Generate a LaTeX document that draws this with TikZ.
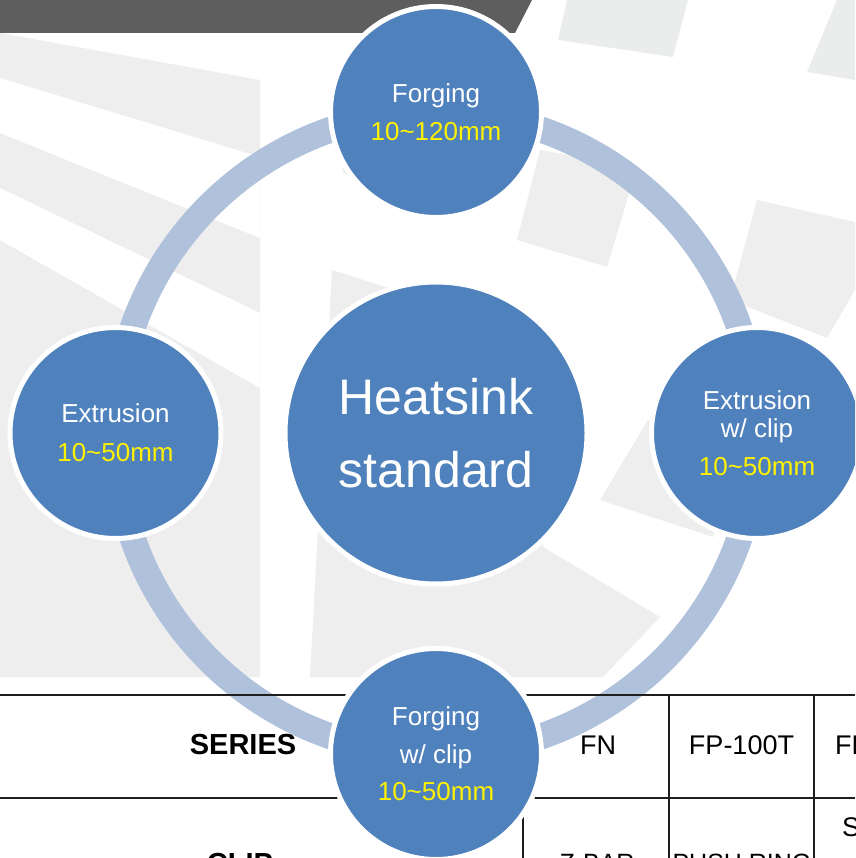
\documentclass[tikz,border=0pt]{standalone}
\usepackage{fontspec}
\setmainfont{Liberation Sans}
\usetikzlibrary{positioning}
\definecolor{diskblue}{HTML}{4F81BD}
\definecolor{ringblue}{HTML}{B0C1DC}
\definecolor{bargray}{HTML}{5E5E5E}
\definecolor{wallgray}{HTML}{EEEEEE}
\definecolor{tilegray}{HTML}{EBECEC}
\definecolor{rulegray}{HTML}{1E1E1E}
\newcommand{\mmrange}[1]{{\color{yellow}#1}}
\tikzset{
  sat/.style={circle, fill=diskblue, draw=white, line width=5pt, minimum size=211pt,
    inner sep=0pt, text=white, align=center, font=\fontsize{26}{28}\selectfont},
  hub/.style={sat, minimum size=302pt, font=\fontsize{50}{73}\selectfont},
  cell/.style={anchor=base, text=black, inner sep=0pt, font=\fontsize{27}{30}\selectfont},
  headcell/.style={cell, font=\fontsize{29}{32}\selectfont\bfseries},
  rule/.style={draw=rulegray, line width=1.8pt}
}

\begin{document}
\begin{tikzpicture}[x=1pt, y=-1pt]
          \useasboundingbox (0,0) rectangle (855,858);
          \clip (0,0) rectangle (855,858);
          \fill[white] (0,0) rectangle (855,858);
          % background wall
          \fill[wallgray] (0,33) -- (260,80) -- (260,677) -- (0,677) -- cycle;
          \fill[white] (0,78) -- (260,157) -- (260,238) -- (0,133) -- cycle;
          \fill[white] (0,188) -- (260,313) -- (260,388) -- (0,240) -- cycle;
          \fill[wallgray] (332,270) -- (552,340) -- (543,547) -- (660,617) -- (603,677) -- (310,677) -- cycle;
          \fill[wallgray] (335,100) -- (420,120) -- (372,192) -- (343,172) -- cycle;
          \fill[wallgray] (540,150) -- (637,167) -- (607,267) -- (517,240) -- cycle;
          \fill[wallgray] (757,200) -- (855,222) -- (855,290) -- (827,338) -- (730,300) -- cycle;
          \fill[wallgray] (648,420) -- (750,452) -- (713,537) -- (600,500) -- cycle;
          \fill[tilegray] (567,0) -- (688,0) -- (673,57) -- (558,40) -- cycle;
          \fill[tilegray] (837,0) -- (855,0) -- (855,80) -- (807,72) -- cycle;
          \fill[bargray] (0,0) -- (532,0) -- (515,33) -- (0,33) -- cycle;
          % ring
          \coordinate (mid) at (436,433);
          \draw[ringblue, line width=26pt] (mid) circle[radius=321pt];
          % table
          \draw[rule] (0,695) -- (855,695);
          \draw[rule] (0,798) -- (855,798);
          \draw[rule] (523,695) -- (523,858);
          \draw[rule] (669,695) -- (669,858);
          \draw[rule] (814,695) -- (814,858);
          \node[headcell] (series) at (243,754) {SERIES};
          \node[cell] (fn) at (598,754) {FN};
          \node[cell] (fp) at (741.5,754) {FP-100T};
          \node[cell, anchor=base west] (fnext) at (835,754) {FP};
          \node[headcell] (clip) at (240,873) {CLIP};
          \node[cell, font=\fontsize{25}{28}\selectfont] (zbar) at (597,871) {Z-BAR};
          \node[cell, font=\fontsize{25}{28}\selectfont] (push) at (742,871) {PUSH RING};
          \node[cell, anchor=base west] (snext) at (842,836) {S};
          % circles
          \node[hub] (core) at (mid) {Heatsink\\standard};
          \node[sat] (forge) at (436,112) {Forging\\[10pt]\mmrange{10\textasciitilde120mm}};
          \node[sat] (extr) at (115.5,433) {Extrusion\\[11pt]\mmrange{10\textasciitilde50mm}};
          \node[sat] (extrclip) at (757,433) {Extrusion\\w/ clip\\[10pt]\mmrange{10\textasciitilde50mm}};
          \node[sat] (forgeclip) at (436,754) {Forging\\[10pt]w/ clip\\[9pt]\mmrange{10\textasciitilde50mm}};
\end{tikzpicture}
\end{document}
